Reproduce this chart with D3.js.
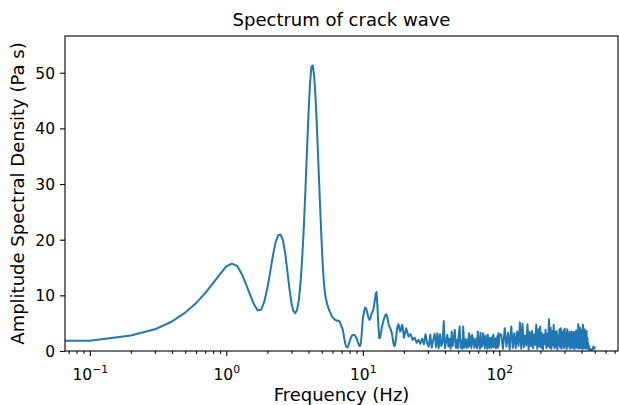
<!DOCTYPE html>
<html>
<head>
<meta charset="utf-8">
<script src="https://cdn.jsdelivr.net/npm/d3@7"></script>
<style>
  html, body { margin: 0; padding: 0; background: #fff; }
  svg { display: block; font-family: "DejaVu Sans", sans-serif; }
</style>
</head>
<body>
<svg id="chart" width="619" height="405"></svg>
<script>
// Amplitude spectral density of the crack wave, on the FFT frequency grid.
// Each band: first bin frequency (Hz), bin spacing (Hz), amplitudes (Pa s).

// 0 – 10 Hz (first entry is the DC bin)
const lowFreqStart = 0.0, lowFreqStep = 0.1;
const lowAmp = [
  1.85, 1.85, 2.8, 3.9, 5.3, 6.9, 8.6, 10.4, 12.2, 13.8,
  15.2, 15.7, 15.3, 13.8, 11.9, 10.0, 8.3, 7.3, 7.4, 8.9,
  11.3, 14.3, 17.3, 19.6, 20.8, 20.9, 19.9, 17.6, 14.4, 11.2,
  8.6, 7.2, 6.8, 7.4, 9.2, 12.3, 16.8, 22.4, 29.0, 36.0,
  42.6, 47.9, 51.0, 51.3, 49.5, 45.8, 40.8, 35.2, 29.6, 24.2,
  19.3, 15.0, 12.0, 10.1, 9.1, 8.3, 7.7, 7.2, 6.8, 6.4,
  6.1, 5.9, 5.7, 5.6, 5.5, 5.5, 5.4, 5.4, 5.2, 4.8,
  4.3, 4.0, 3.3, 2.4, 1.6, 1.0, 0.7, 0.65, 0.8, 1.2,
  1.7, 2.1, 2.4, 2.7, 2.85, 2.9, 2.9, 2.85, 2.7, 2.5,
  2.3, 2.0, 1.6, 1.3, 1.0, 0.9, 1.0, 1.6, 2.8, 4.3,
  5.8
];

// 10.2 – 20 Hz
const midFreqStart = 10.2, midFreqStep = 0.2;
const midAmp = [
  7.0, 7.8, 7.6, 6.8, 6.0, 5.6, 6.0, 6.7, 7.1, 7.6,
  8.8, 10.1, 10.6, 8.0, 4.6, 2.3, 2.4, 3.4, 4.3, 4.9,
  5.5, 6.0, 6.4, 6.6, 6.4, 5.8, 5.0, 4.5, 4.2, 3.9,
  3.5, 2.9, 2.1, 1.3, 0.9, 1.0, 1.7, 2.8, 3.9, 4.5,
  4.8, 4.5, 3.8, 3.5, 3.7, 4.3, 4.7, 4.3, 3.3, 2.4
];

// 20.8 – 100 Hz
const noiseFreqStart = 20.8, noiseFreqStep = 0.8;
const noiseAmp = [
  4.1, 2.6, 3.0, 2.0, 2.4, 1.5, 2.0, 1.3, 2.2, 1.2,
  3.0, 1.4, 0.8, 2.9, 0.6, 2.0, 3.1, 0.7, 3.2, 0.5,
  3.0, 0.9, 1.5, 5.4, 0.5, 1.8, 2.9, 0.8, 2.2, 0.4,
  3.5, 0.9, 2.4, 3.8, 0.6, 2.0, 0.5, 2.8, 4.4, 0.6,
  1.8, 0.4, 4.4, 0.6, 2.2, 1.6, 0.5, 2.1, 0.7, 3.2,
  1.0, 2.6, 0.5, 2.9, 1.2, 2.3, 0.6, 1.9, 0.8, 2.3,
  0.5, 3.5, 1.1, 2.4, 0.4, 3.3, 0.7, 2.0, 0.9, 3.2,
  1.3, 2.5, 0.5, 2.8, 0.9, 1.7, 0.4, 2.9, 1.0, 2.1,
  0.5, 2.4, 1.2, 1.9, 0.6, 2.6, 1.0, 2.9, 0.7, 2.2,
  0.9, 2.3, 0.5, 2.0, 1.1, 2.7, 0.6, 3.2, 1.0, 2.9
];

// 103.2 – 500 Hz
const highFreqStart = 103.2, highFreqStep = 3.2;
const highAmp = [
  3.0, 0.4, 4.1, 0.8, 3.3, 0.3, 4.4, 0.6, 3.2, 0.5,
  3.5, 0.9, 5.1, 0.4, 4.9, 0.7, 2.8, 1.0, 4.8, 0.3,
  3.4, 0.9, 3.6, 0.5, 3.0, 1.1, 4.7, 0.4, 3.9, 0.8,
  4.4, 0.6, 3.2, 0.3, 2.9, 1.2, 3.8, 0.5, 3.1, 0.9,
  5.7, 0.6, 4.2, 0.4, 3.6, 1.0, 4.7, 0.5, 3.4, 0.8,
  3.6, 0.3, 2.8, 1.1, 3.9, 0.6, 4.1, 0.4, 3.3, 0.9,
  3.7, 0.5, 4.0, 1.0, 3.2, 0.3, 3.9, 0.7, 2.9, 1.2,
  3.5, 0.4, 3.1, 0.8, 3.5, 0.5, 2.7, 1.0, 3.4, 0.3,
  3.0, 0.9, 3.7, 0.6, 3.3, 1.1, 4.8, 0.4, 3.6, 0.7,
  4.2, 0.5, 3.1, 1.0, 3.8, 0.3, 4.7, 0.8, 3.3, 0.5,
  3.9, 1.0, 3.2, 0.4, 3.6, 0.6, 2.4, 0.5, 1.4, 0.3,
  0.8, 0.2, 0.4, 0.1, 0.2, 0.1, 0.2, 0.3, 0.2, 0.5,
  0.7, 0.8, 0.6, 0.4, 0.8
];

const yTicks = [0, 10, 20, 30, 40, 50];
const xMajorTicks = [0.1, 1, 10, 100];
const xMajorExponents = ["\u22121", "0", "1", "2"];
const xMinorTicks = [0.07, 0.08, 0.09,
  0.2, 0.3, 0.4, 0.5, 0.6, 0.7, 0.8, 0.9,
  2, 3, 4, 5, 6, 7, 8, 9,
  20, 30, 40, 50, 60, 70, 80, 90,
  200, 300, 400, 500, 600, 700];

const titleText = "Spectrum of crack wave";
const xLabelText = "Frequency (Hz)";
const yLabelText = "Amplitude Spectral Density (Pa s)";

// Join the bands into one series of {f, a}
function band(start, step, amps) {
  return amps.map((a, i) => ({ f: +(start + i * step).toFixed(4), a }));
}
const spectrum = [].concat(
  band(lowFreqStart, lowFreqStep, lowAmp),
  band(midFreqStart, midFreqStep, midAmp),
  band(noiseFreqStart, noiseFreqStep, noiseAmp),
  band(highFreqStart, highFreqStep, highAmp)
);

// Layout
const W = 619, H = 405;
const margin = { left: 65, right: 1, top: 36, bottom: 54 };
const plotL = margin.left, plotR = W - margin.right;
const plotT = margin.top, plotB = H - margin.bottom;

const svg = d3.select("#chart");

const x = d3.scaleLog()
  .domain([Math.pow(10, -1.1817), Math.pow(10, 2.8696)])
  .range([plotL, plotR]);
const y = d3.scaleLinear()
  .domain([0, 56.6])
  .range([plotB, plotT]);

// Clip the trace to the axes box (the DC bin sits off to the left)
svg.append("clipPath").attr("id", "plotClip")
  .append("rect")
  .attr("x", plotL).attr("y", plotT)
  .attr("width", plotR - plotL).attr("height", plotB - plotT);

const line = d3.line()
  .x(d => x(Math.max(d.f, 1e-3)))
  .y(d => y(d.a));

svg.append("path")
  .datum(spectrum)
  .attr("clip-path", "url(#plotClip)")
  .attr("fill", "none")
  .attr("stroke", "#1f77b4")
  .attr("stroke-width", 2)
  .attr("stroke-linejoin", "round")
  .attr("stroke-linecap", "butt")
  .attr("d", line);

// Axes
const tickFont = 15.5;

const xAxisMajor = d3.axisBottom(x)
  .tickValues(xMajorTicks)
  .tickSize(5)
  .tickPadding(0)
  .tickFormat(() => "");
const xAxisMinor = d3.axisBottom(x)
  .tickValues(xMinorTicks)
  .tickSize(2.8)
  .tickFormat(() => "");

const gxMinor = svg.append("g")
  .attr("transform", `translate(0,${plotB})`)
  .call(xAxisMinor);
gxMinor.select(".domain").remove();

const gx = svg.append("g")
  .attr("transform", `translate(0,${plotB})`)
  .call(xAxisMajor);
gx.select(".domain").remove();

// Major x labels as 10 with a superscript exponent
gx.selectAll(".tick").each(function (d, i) {
  const t = d3.select(this).select("text");
  t.text(null)
    .attr("y", 29)
    .attr("dy", null)
    .attr("fill", "#000")
    .attr("font-size", tickFont)
    .attr("font-family", "DejaVu Sans, sans-serif")
    .attr("text-anchor", "middle");
  t.append("tspan").text("10");
  t.append("tspan")
    .attr("dy", -7)
    .attr("font-size", tickFont * 0.7)
    .text(xMajorExponents[i]);
});

const gy = svg.append("g")
  .attr("transform", `translate(${plotL},0)`)
  .call(d3.axisLeft(y).tickValues(yTicks).tickSize(5).tickPadding(5));
gy.select(".domain").remove();
gy.selectAll("text")
  .attr("font-size", tickFont)
  .attr("font-family", "DejaVu Sans, sans-serif")
  .attr("fill", "#000")
  .attr("dy", "0.36em");

svg.selectAll(".tick line").attr("stroke", "#000").attr("stroke-width", 1.1);

// Axes frame
svg.append("rect")
  .attr("x", plotL).attr("y", plotT)
  .attr("width", plotR - plotL).attr("height", plotB - plotT)
  .attr("fill", "none")
  .attr("stroke", "#000")
  .attr("stroke-width", 1.1);

// Titles
svg.append("text")
  .attr("x", (plotL + plotR) / 2).attr("y", 26)
  .attr("text-anchor", "middle")
  .attr("font-size", 18)
  .attr("fill", "#000")
  .text(titleText);

svg.append("text")
  .attr("x", (plotL + plotR) / 2).attr("y", 400.5)
  .attr("text-anchor", "middle")
  .attr("font-size", 18)
  .attr("fill", "#000")
  .text(xLabelText);

svg.append("text")
  .attr("transform", `translate(24,${(plotT + plotB) / 2}) rotate(-90)`)
  .attr("text-anchor", "middle")
  .attr("font-size", 18)
  .attr("fill", "#000")
  .text(yLabelText);
</script>
</body>
</html>
